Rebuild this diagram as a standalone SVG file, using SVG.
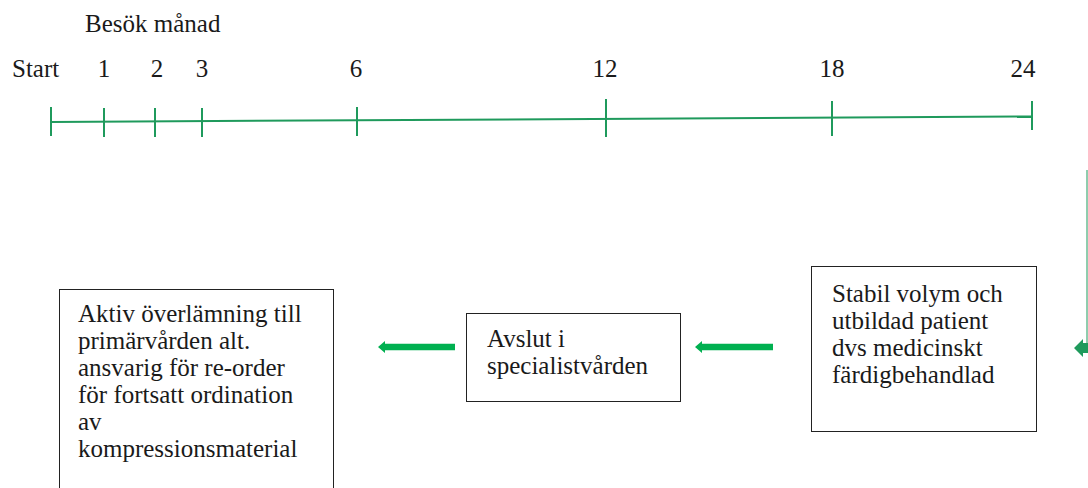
<svg xmlns="http://www.w3.org/2000/svg" width="1088" height="488" viewBox="0 0 1088 488">
  <style>
    text { font-family: "Liberation Serif", "Times New Roman", serif; font-size: 25px; fill: #1a1a1a; }
    .axis { stroke: #1f9a5c; stroke-width: 2; fill: none; }
    .box { fill: #ffffff; stroke: #222222; stroke-width: 1; }
    .flow { fill: #00b050; }
    .feed { fill: #1f9a5c; }
    .mid { text-anchor: middle; }
  </style>

  <rect width="1088" height="488" fill="#ffffff"/>

  <!-- month timeline -->
  <g id="timeline">
    <text x="85" y="32">Besök månad</text>
    <text x="12" y="77">Start</text>
    <text class="mid" x="104" y="77">1</text>
    <text class="mid" x="157" y="77">2</text>
    <text class="mid" x="202" y="77">3</text>
    <text class="mid" x="356" y="77">6</text>
    <text class="mid" x="605" y="77">12</text>
    <text class="mid" x="832" y="77">18</text>
    <text class="mid" x="1023" y="77">24</text>
    <line class="axis" x1="51" y1="122" x2="1032" y2="116.5"/>
    <line class="axis" x1="51" y1="107" x2="51" y2="136"/>
    <line class="axis" x1="104" y1="108" x2="104" y2="137"/>
    <line class="axis" x1="155" y1="108" x2="155" y2="137"/>
    <line class="axis" x1="202" y1="108" x2="202" y2="137"/>
    <line class="axis" x1="357" y1="107" x2="357" y2="136"/>
    <line class="axis" x1="606" y1="99" x2="606" y2="137"/>
    <line class="axis" x1="832" y1="101" x2="832" y2="136"/>
    <line class="axis" x1="1032" y1="101" x2="1032" y2="130"/>
  </g>

  <!-- process steps -->
  <g id="handover">
    <rect class="box" x="59.5" y="289.5" width="274" height="210"/>
    <text x="78" y="322">Aktiv överlämning till</text>
    <text x="78" y="349">primärvården alt.</text>
    <text x="78" y="376">ansvarig för re-order</text>
    <text x="78" y="403">för fortsatt ordination</text>
    <text x="78" y="430">av</text>
    <text x="78" y="457">kompressionsmaterial</text>
  </g>

  <g id="closure">
    <rect class="box" x="466.5" y="313.5" width="214" height="88"/>
    <text x="487" y="347">Avslut i</text>
    <text x="487" y="374">specialistvården</text>
  </g>

  <g id="stable">
    <rect class="box" x="811.5" y="266.5" width="225" height="165"/>
    <text x="832" y="302">Stabil volym och</text>
    <text x="832" y="329">utbildad patient</text>
    <text x="832" y="356">dvs medicinskt</text>
    <text x="832" y="383">färdigbehandlad</text>
  </g>

  <!-- connectors -->
  <g id="connectors">
    <polygon class="flow" points="378,347 385,341 385,343.7 455,343.7 455,350.3 385,350.3 385,353"/>
    <polygon class="flow" points="695,347 702,341 702,343.7 773,343.7 773,350.3 702,350.3 702,353"/>
    <line x1="1087" y1="170" x2="1087" y2="348" stroke="#1f9a5c" stroke-width="1"/>
    <polygon class="feed" points="1074,348 1083,339 1083,343 1088,343 1088,353 1083,353 1083,357"/>
  </g>
</svg>
